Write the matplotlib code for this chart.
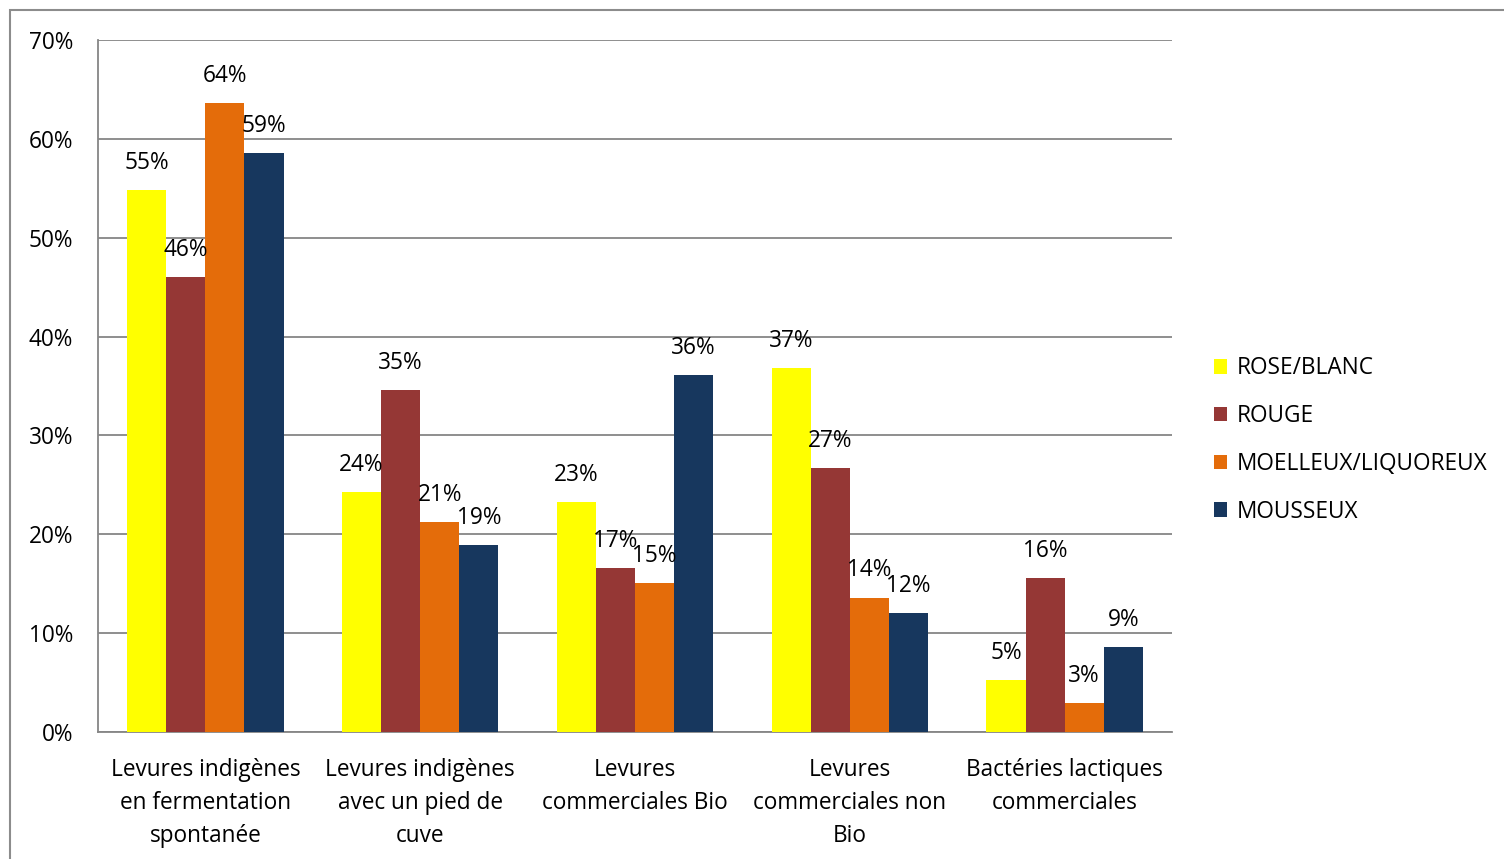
import numpy as np
import matplotlib.pyplot as plt
from matplotlib.patches import Rectangle

plt.rcParams['font.family'] = ['Open Sans', 'DejaVu Sans']

# Données (%)
categories = ['Levures indigènes\nen fermentation\nspontanée',
              'Levures indigènes\navec un pied de\ncuve',
              'Levures\ncommerciales Bio',
              'Levures\ncommerciales non\nBio',
              'Bactéries lactiques\ncommerciales']
series = ['ROSE/BLANC', 'ROUGE', 'MOELLEUX/LIQUOREUX', 'MOUSSEUX']
rose_blanc = [54.8, 24.3, 23.3, 36.8, 5.3]
rouge = [46.0, 34.6, 16.6, 26.7, 15.6]
moelleux = [63.6, 21.2, 15.1, 13.6, 2.9]
mousseux = [58.6, 18.9, 36.1, 12.0, 8.6]
colors = ['#FFFF00', '#953735', '#E46C0A', '#17375E']

FS = 16.3

fig = plt.figure(figsize=(15.04, 8.59), dpi=100)
ax = fig.add_axes([98 / 1504, 127 / 859, 1074 / 1504, 692 / 859])

# cadre du graphique
fig.patches.append(Rectangle((10 / 1504, -0.1), 1.2, (849 / 859) + 0.1,
                             transform=fig.transFigure, fill=False,
                             edgecolor='#8c8c8c', linewidth=1.5))

x = np.arange(len(categories))
w = 0.182
data = [rose_blanc, rouge, moelleux, mousseux]
for i, (vals, col, name) in enumerate(zip(data, colors, series)):
    pos = x + (i - 1.5) * w
    ax.bar(pos, vals, w, color=col, label=name, zorder=3)
    for px, v in zip(pos, vals):
        ax.annotate(f'{v:.0f}%', (px, v), xytext=(0, 19.5), textcoords='offset points',
                    ha='center', va='center', fontsize=FS, zorder=4)

ax.set_xlim(-0.5, 4.5)
ax.set_ylim(0, 70)
ax.set_yticks(np.arange(0, 71, 10))
ax.set_yticklabels([f'{t}%' for t in range(0, 71, 10)])
ax.set_xticks(x)
ax.set_xticklabels(categories, linespacing=1.48)
ax.tick_params(axis='y', length=0, pad=18, labelsize=FS)
ax.tick_params(axis='x', length=0, pad=19, labelsize=FS)
ax.grid(axis='y', color='#868686', linewidth=1.3, zorder=0)
for s in ['top', 'right']:
    ax.spines[s].set_visible(False)
for s in ['left', 'bottom']:
    ax.spines[s].set_color('#868686')
    ax.spines[s].set_linewidth(1.3)

ax.legend(loc='center left', bbox_to_anchor=(1.020, 0.422), frameon=False,
          fontsize=FS, handlelength=0.6, handleheight=0.6, handletextpad=0.4,
          labelspacing=1.05)

fig.savefig('out.png', dpi=100)
